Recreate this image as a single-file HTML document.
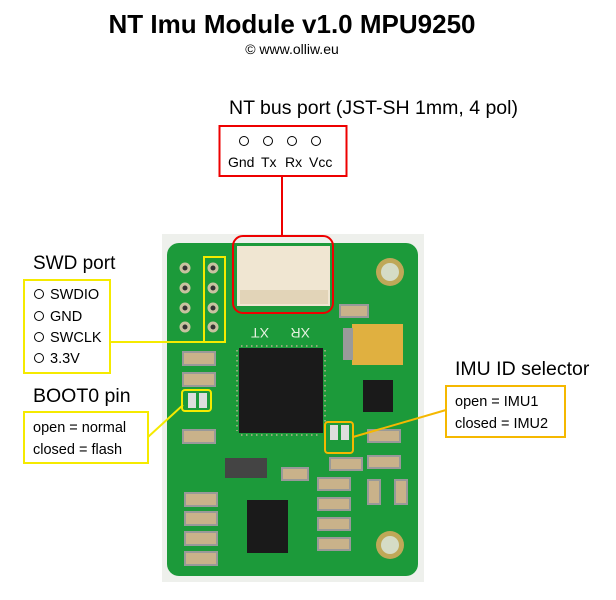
<!DOCTYPE html><html><head><meta charset="utf-8"><style>
body{margin:0;width:616px;height:600px;background:#fff;overflow:hidden}
svg{display:block}
text{font-family:"Liberation Sans",sans-serif}
</style></head><body>
<svg width="616" height="600" viewBox="0 0 616 600">
<text x="292" y="33" font-size="26" font-weight="bold" text-anchor="middle" fill="#000">NT Imu Module v1.0 MPU9250</text>
<text x="292" y="54" font-size="14" text-anchor="middle" fill="#000">© www.olliw.eu</text>
<text x="229" y="114" font-size="19.5" fill="#000">NT bus port (JST-SH 1mm, 4 pol)</text>
<rect x="219.5" y="126" width="127" height="50" fill="#fff" stroke="#e00" stroke-width="2"/>
<g fill="none" stroke="#000" stroke-width="1"><circle cx="244" cy="141" r="4.5"/><circle cx="268" cy="141" r="4.5"/><circle cx="292" cy="141" r="4.5"/><circle cx="316" cy="141" r="4.5"/></g>
<text x="228" y="167" font-size="14">Gnd</text><text x="261" y="167" font-size="14">Tx</text><text x="285" y="167" font-size="14">Rx</text><text x="309" y="167" font-size="14">Vcc</text>
<rect x="162" y="234" width="262" height="348" fill="#eef0ec"/>
<rect x="167" y="243" width="251" height="333" rx="12" fill="#1c9a3a"/>
<circle cx="390" cy="272" r="14" fill="#bfa858"/><circle cx="390" cy="272" r="9" fill="#d5dcc6"/>
<circle cx="390" cy="545" r="14" fill="#bfa858"/><circle cx="390" cy="545" r="9" fill="#d5dcc6"/>
<g fill="#333" stroke="#c8c2a0" stroke-width="3">
<circle cx="185" cy="268" r="4"/><circle cx="185" cy="288" r="4"/><circle cx="185" cy="308" r="4"/><circle cx="185" cy="327" r="4"/>
<circle cx="213" cy="268" r="4"/><circle cx="213" cy="288" r="4"/><circle cx="213" cy="308" r="4"/><circle cx="213" cy="327" r="4"/></g>
<rect x="237" y="246" width="93" height="60" fill="#f0e6d2"/>
<rect x="240" y="290" width="88" height="14" fill="#e2d4b8"/>
<text x="247" y="340" font-size="14" fill="#e6f2e0" transform="rotate(180 258 334)">XT</text>
<text x="290" y="340" font-size="14" fill="#e6f2e0" transform="rotate(180 300 334)">XR</text>
<rect x="239" y="348" width="84" height="85" fill="#1a1a1a"/>
<g stroke="#b8b090" stroke-width="1.5" stroke-dasharray="1.5 3.5">
<line x1="241" y1="346" x2="321" y2="346"/><line x1="241" y1="435" x2="321" y2="435"/>
<line x1="237" y1="350" x2="237" y2="431"/><line x1="325" y1="350" x2="325" y2="431"/></g>
<rect x="352" y="324" width="51" height="41" fill="#e0b040"/>
<rect x="343" y="328" width="10" height="32" fill="#9a9a9a"/>
<rect x="247" y="500" width="41" height="53" fill="#1a1a1a"/>
<rect x="363" y="380" width="30" height="32" fill="#1a1a1a"/>
<rect x="225" y="458" width="42" height="20" fill="#444"/>
<g fill="#c9b28a" stroke="#999" stroke-width="2">
<rect x="183" y="352" width="32" height="13"/><rect x="183" y="373" width="32" height="13"/>
<rect x="183" y="430" width="32" height="13"/><rect x="185" y="493" width="32" height="13"/>
<rect x="185" y="512" width="32" height="13"/><rect x="185" y="532" width="32" height="13"/>
<rect x="185" y="552" width="32" height="13"/><rect x="330" y="458" width="32" height="12"/>
<rect x="318" y="478" width="32" height="12"/><rect x="318" y="498" width="32" height="12"/>
<rect x="318" y="518" width="32" height="12"/><rect x="318" y="538" width="32" height="12"/>
<rect x="368" y="430" width="32" height="12"/><rect x="368" y="456" width="32" height="12"/>
<rect x="282" y="468" width="26" height="12"/><rect x="340" y="305" width="28" height="12"/>
<rect x="368" y="480" width="12" height="24"/><rect x="395" y="480" width="12" height="24"/>
</g>
<g fill="#ddd"><rect x="188" y="393" width="8" height="15"/><rect x="199" y="393" width="8" height="15"/>
<rect x="330" y="425" width="8" height="15"/><rect x="341" y="425" width="8" height="15"/></g>
<line x1="282" y1="176" x2="282" y2="235" stroke="#e00" stroke-width="2"/>
<rect x="233" y="236" width="100" height="77" rx="10" fill="none" stroke="#e00" stroke-width="2"/>
<rect x="204" y="257" width="21" height="85" fill="none" stroke="#f5ea00" stroke-width="2"/>
<line x1="110" y1="342" x2="204" y2="342" stroke="#f5ea00" stroke-width="2"/>
<rect x="182" y="390" width="29" height="21" rx="3" fill="none" stroke="#f5ea00" stroke-width="2"/>
<line x1="148" y1="437" x2="183" y2="405" stroke="#f5ea00" stroke-width="2"/>
<rect x="325" y="422" width="28" height="31" rx="3" fill="none" stroke="#f5b800" stroke-width="2"/>
<line x1="446" y1="410" x2="353" y2="437" stroke="#f5b800" stroke-width="2"/>
<text x="33" y="269" font-size="19">SWD port</text>
<rect x="24" y="280" width="86" height="93" fill="#fff" stroke="#f5ea00" stroke-width="2"/>
<g fill="none" stroke="#000"><circle cx="39" cy="294" r="4.5"/><circle cx="39" cy="316" r="4.5"/><circle cx="39" cy="337" r="4.5"/><circle cx="39" cy="358" r="4.5"/></g>
<text x="50" y="299" font-size="14.5">SWDIO</text><text x="50" y="321" font-size="14.5">GND</text>
<text x="50" y="342" font-size="14.5">SWCLK</text><text x="50" y="363" font-size="14.5">3.3V</text>
<text x="33" y="402" font-size="19.5">BOOT0 pin</text>
<rect x="24" y="412" width="124" height="51" fill="#fff" stroke="#f5ea00" stroke-width="2"/>
<text x="33" y="432" font-size="14.5">open = normal</text><text x="33" y="454" font-size="14.5">closed = flash</text>
<text x="455" y="375" font-size="19.5">IMU ID selector</text>
<rect x="446" y="386" width="119" height="51" fill="#fff" stroke="#f5b800" stroke-width="2"/>
<text x="455" y="406" font-size="14.5">open = IMU1</text><text x="455" y="428" font-size="14.5">closed = IMU2</text>
</svg>
</body></html>
